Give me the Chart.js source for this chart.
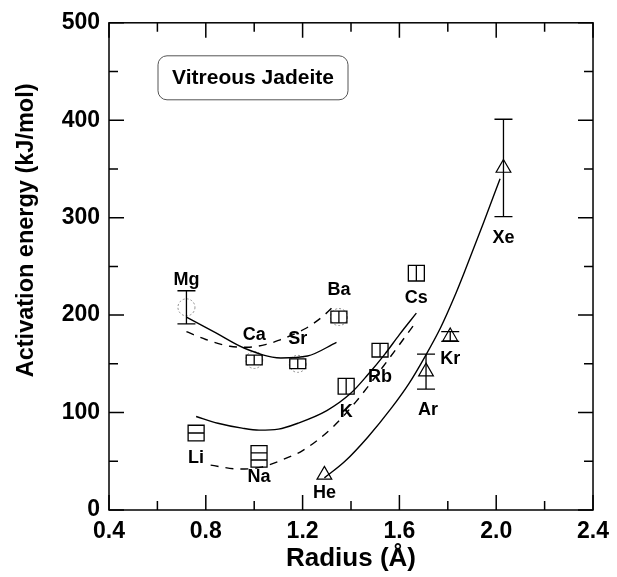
<!DOCTYPE html>
<html>
<head>
<meta charset="utf-8">
<script src="https://cdn.jsdelivr.net/npm/chart.js@4.4.1/dist/chart.umd.min.js"></script>
<style>
  html, body { margin: 0; padding: 0; background: #fff; }
  #wrap { width: 617px; height: 577px; }
</style>
</head>
<body>
<div id="wrap"><canvas id="chart" width="617" height="577"></canvas></div>
<script>
const earthNames = ['Mg', 'Ca', 'Sr', 'Ba'];
const earthRadius = [0.72, 1.00, 1.18, 1.35];
const earthEnergy = [208, 154, 150, 198];
const earthError = [17, 5, 5, 6];

const alkaliNames = ['Li', 'Na', 'K', 'Rb', 'Cs'];
const alkaliRadius = [0.76, 1.02, 1.38, 1.52, 1.67];
const alkaliEnergy = [79, 55, 127, 164, 243];
const alkaliError = [8, 11, 8, 7, 8];

const nobleNames = ['He', 'Ar', 'Kr', 'Xe'];
const nobleRadius = [1.29, 1.71, 1.81, 2.03];
const nobleEnergy = [36, 142, 178, 351];
const nobleError = [0, 18, 5, 50];

// trend curves
const earthSolidX = [0.72, 0.84, 0.96, 1.11, 1.22, 1.34];
const earthSolidY = [198, 182, 166, 156, 158, 172];
const earthDashX = [0.72, 0.80, 0.90, 0.97, 1.05, 1.10, 1.21, 1.28, 1.34];
const earthDashY = [183, 175, 168, 167, 170, 174, 186, 198, 212];

const alkaliSolidX = [0.76, 0.85, 0.95, 1.02, 1.10, 1.18, 1.30, 1.40, 1.47, 1.54, 1.60, 1.67];
const alkaliSolidY = [96, 89, 84, 82, 83, 89, 102, 120, 139, 160, 180, 202];
const alkaliDashX = [0.82, 0.94, 1.03, 1.13, 1.20, 1.32, 1.42, 1.55, 1.66];
const alkaliDashY = [46, 42, 44, 53, 61, 84, 111, 153, 190];

const nobleFitX = [1.29, 1.375, 1.47, 1.565, 1.64, 1.707, 1.77, 1.826, 1.87, 1.948, 2.016];
const nobleFitY = [33, 50, 75, 104, 130, 158, 187, 218, 245, 295, 340];

const xTicks = [0.4, 0.8, 1.2, 1.6, 2.0, 2.4];
const yTicks = [0, 100, 200, 300, 400, 500];

const toPoints = (xs, ys) => xs.map((x, i) => ({x: x, y: ys[i]}));

const curve = (xs, ys, dash) => ({
    type: 'line',
    data: toPoints(xs, ys),
    borderColor: '#000',
    borderWidth: 1.4,
    borderDash: dash,
    pointRadius: 0,
    fill: false,
    cubicInterpolationMode: 'monotone'
});

// error bars, boxes and ion names
const marks = {
    id: 'marks',
    beforeDatasetDraw(chart, args) {
        const ds = chart.data.datasets[args.index];
        if (ds.pointDash) chart.ctx.setLineDash(ds.pointDash);
    },
    afterDatasetDraw(chart) {
        chart.ctx.setLineDash([]);
    },
    afterDatasetsDraw(chart, args, opts) {
        const ctx = chart.ctx;
        const y = chart.scales.y;
        ctx.save();
        ctx.strokeStyle = '#000';
        ctx.fillStyle = '#000';
        ctx.lineWidth = 1.3;
        chart.data.datasets.forEach((ds, di) => {
            const meta = chart.getDatasetMeta(di);
            if (ds.errors) {
                meta.data.forEach((pt, i) => {
                    const v = ds.data[i].y, e = ds.errors[i];
                    if (!e) return;
                    const top = y.getPixelForValue(v + e);
                    const bot = y.getPixelForValue(v - e);
                    ctx.beginPath();
                    if (ds.errStyle === 'box') {
                        ctx.rect(pt.x - 8, top, 16, bot - top);
                        if (opts.rows.includes(ds.names ? ds.names[i] : '')) {
                            // Li / Na boxes are split by horizontal rules
                            const n = e > 9 ? 3 : 2;
                            for (let k = 1; k < n; k++) {
                                const ry = top + (bot - top) * k / n;
                                ctx.moveTo(pt.x - 8, ry);
                                ctx.lineTo(pt.x + 8, ry);
                            }
                        } else {
                            ctx.moveTo(pt.x, top);
                            ctx.lineTo(pt.x, bot);
                        }
                    } else {
                        ctx.moveTo(pt.x, top);
                        ctx.lineTo(pt.x, bot);
                        ctx.moveTo(pt.x - 9, top);
                        ctx.lineTo(pt.x + 9, top);
                        ctx.moveTo(pt.x - 9, bot);
                        ctx.lineTo(pt.x + 9, bot);
                    }
                    ctx.stroke();
                });
            }
            if (ds.names) {
                ctx.font = 'bold 18px "Liberation Sans", Arial, sans-serif';
                ctx.textAlign = 'center';
                ctx.textBaseline = 'alphabetic';
                meta.data.forEach((pt, i) => {
                    const s = opts.shift[ds.names[i]] || [0, 0];
                    ctx.fillText(ds.names[i], pt.x + s[0], pt.y + s[1]);
                });
            }
        });
        ctx.restore();
    }
};

// closed frame with inward ticks on all four sides, the y title and the boxed title
const frame = {
    id: 'frame',
    afterDraw(chart) {
        const ctx = chart.ctx;
        const {left, right, top, bottom} = chart.chartArea;
        const xs = chart.scales.x, ys = chart.scales.y;
        ctx.save();
        ctx.strokeStyle = '#000';
        ctx.lineWidth = 1.5;
        ctx.strokeRect(left, top, right - left, bottom - top);
        ctx.beginPath();
        for (let i = 0; i < xTicks.length; i++) {
            const px = xs.getPixelForValue(xTicks[i]);
            ctx.moveTo(px, bottom); ctx.lineTo(px, bottom - 15);
            ctx.moveTo(px, top); ctx.lineTo(px, top + 15);
            if (i < xTicks.length - 1) {
                const mx = xs.getPixelForValue((xTicks[i] + xTicks[i + 1]) / 2);
                ctx.moveTo(mx, bottom); ctx.lineTo(mx, bottom - 9);
                ctx.moveTo(mx, top); ctx.lineTo(mx, top + 9);
            }
        }
        for (let i = 0; i < yTicks.length; i++) {
            const py = ys.getPixelForValue(yTicks[i]);
            ctx.moveTo(left, py); ctx.lineTo(left + 15, py);
            ctx.moveTo(right, py); ctx.lineTo(right - 15, py);
            if (i < yTicks.length - 1) {
                const my = ys.getPixelForValue((yTicks[i] + yTicks[i + 1]) / 2);
                ctx.moveTo(left, my); ctx.lineTo(left + 9, my);
                ctx.moveTo(right, my); ctx.lineTo(right - 9, my);
            }
        }
        ctx.stroke();

        ctx.fillStyle = '#000';
        ctx.textAlign = 'center';

        // y title sits a bit above the middle of the axis in the original
        ctx.save();
        ctx.translate(27, ys.getPixelForValue(287));
        ctx.rotate(-Math.PI / 2);
        ctx.font = 'bold 23.5px "Liberation Sans", Arial, sans-serif';
        ctx.textBaseline = 'middle';
        ctx.fillText('Activation energy (kJ/mol)', 0, 0);
        ctx.restore();

        // "Vitreous Jadeite" box
        const bx = left + 49, by = top + 33, bw = 190, bh = 44;
        ctx.lineWidth = 1;
        ctx.strokeStyle = '#555';
        ctx.beginPath();
        ctx.roundRect(bx, by, bw, bh, 9);
        ctx.stroke();
        ctx.font = 'bold 21px "Liberation Sans", Arial, sans-serif';
        ctx.textBaseline = 'alphabetic';
        ctx.fillText('Vitreous Jadeite', bx + bw / 2, by + 28);
        ctx.restore();
    }
};

Chart.defaults.font.family = '"Liberation Sans", Arial, sans-serif';
Chart.defaults.font.weight = 'bold';
Chart.defaults.color = '#000';

const config = {
    type: 'scatter',
    data: {
        datasets: [
            curve(earthSolidX, earthSolidY, []),
            curve(earthDashX, earthDashY, [8, 7]),
            curve(alkaliSolidX, alkaliSolidY, []),
            curve(alkaliDashX, alkaliDashY, [8, 7]),
            curve(nobleFitX, nobleFitY, []),
            {
                label: 'alkaline earth',
                data: toPoints(earthRadius, earthEnergy),
                names: earthNames,
                pointStyle: 'circle',
                pointRadius: 8.5,
                borderColor: '#8c8c8c',
                borderWidth: 1,
                backgroundColor: 'rgba(0,0,0,0)',
                pointDash: [2, 2]
            },
            {
                label: 'Mg error',
                data: toPoints(earthRadius.slice(0, 1), earthEnergy.slice(0, 1)),
                errors: earthError.slice(0, 1),
                errStyle: 'bar',
                pointRadius: 0
            },
            {
                label: 'alkaline earth boxes',
                data: toPoints(earthRadius.slice(1), earthEnergy.slice(1)),
                errors: earthError.slice(1),
                errStyle: 'box',
                pointRadius: 0
            },
            {
                label: 'alkali',
                data: toPoints(alkaliRadius, alkaliEnergy),
                names: alkaliNames,
                errors: alkaliError,
                errStyle: 'box',
                pointRadius: 0
            },
            {
                label: 'noble gases',
                data: toPoints(nobleRadius, nobleEnergy),
                names: nobleNames,
                errors: nobleError,
                errStyle: 'bar',
                pointStyle: 'triangle',
                pointRadius: 8.5,
                borderColor: '#000',
                borderWidth: 1.2,
                backgroundColor: 'rgba(0,0,0,0)'
            }
        ]
    },
    options: {
        responsive: false,
        animation: false,
        devicePixelRatio: 1,
        layout: {padding: {top: 21, right: 20, left: 0, bottom: 0}},
        plugins: {
            legend: {display: false},
            tooltip: {enabled: false},
            marks: {
                rows: ['Li', 'Na'],
                shift: {
                    Mg: [0, -22], Ca: [0, -20], Sr: [0, -20], Ba: [0, -22],
                    Li: [0, 30], Na: [0, 26], K: [0, 31], Rb: [0, 32], Cs: [0, 30],
                    He: [0, 23], Ar: [2, 43], Kr: [0, 27], Xe: [0, 75]
                }
            }
        },
        scales: {
            x: {
                type: 'linear',
                min: 0.4,
                max: 2.4,
                afterFit: (s) => { s.height = 67; },
                afterBuildTicks: (s) => { s.ticks = xTicks.map(v => ({value: v})); },
                grid: {display: false, drawTicks: false},
                border: {display: false},
                ticks: {
                    padding: 8,
                    font: {size: 23, weight: 'bold'},
                    callback: (v) => v.toFixed(1)
                },
                title: {
                    display: true,
                    text: 'Radius (Å)',
                    font: {size: 26, weight: 'bold'},
                    padding: {top: 0, bottom: 3}
                }
            },
            y: {
                type: 'linear',
                min: 0,
                max: 500,
                afterFit: (s) => { s.width = 109; },
                afterBuildTicks: (s) => { s.ticks = yTicks.map(v => ({value: v})); },
                grid: {display: false, drawTicks: false},
                border: {display: false},
                ticks: {
                    padding: 9,
                    font: {size: 23, weight: 'bold'}
                },
                title: {display: false}
            }
        }
    },
    plugins: [marks, frame]
};

let ctx = document.getElementById('chart').getContext('2d');
new Chart(ctx, config);
</script>
</body>
</html>
